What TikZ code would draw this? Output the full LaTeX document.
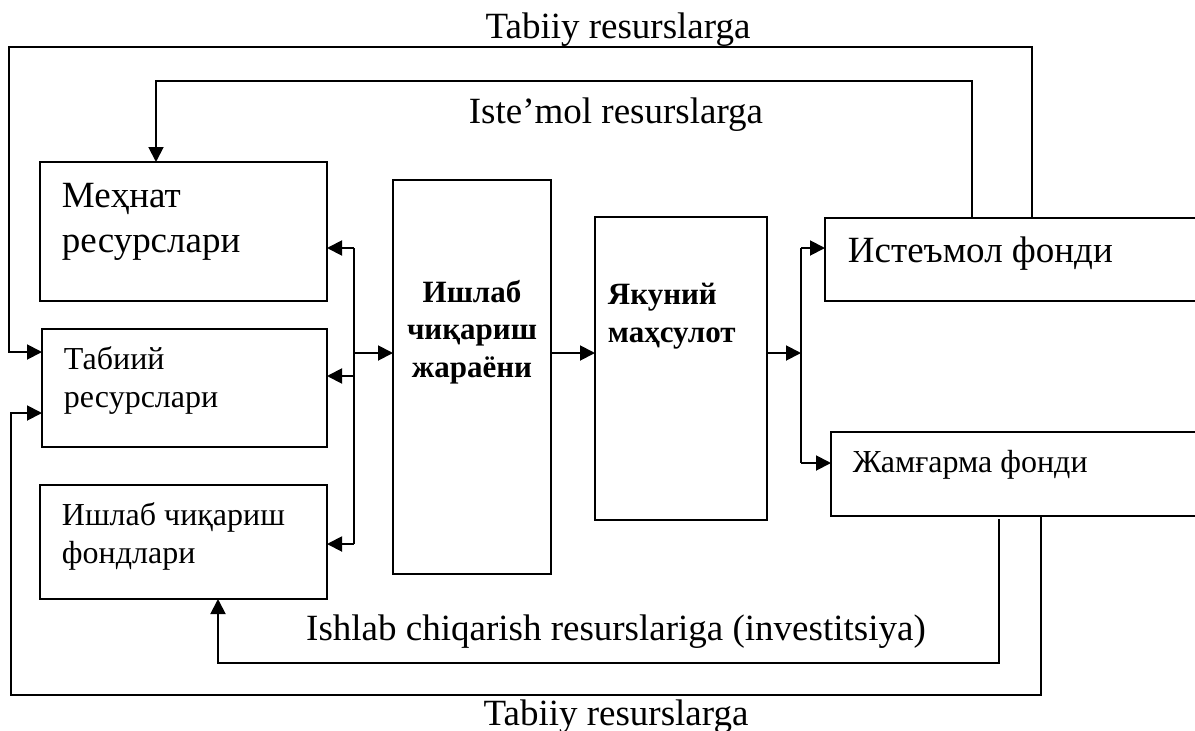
\documentclass[tikz,border=0pt]{standalone}
\usepackage{fontspec}
\setmainfont{Liberation Serif}
\usetikzlibrary{arrows.meta}
\begin{document}
\begin{tikzpicture}[x=1pt,y=-1pt,line width=1.9pt,
  box/.style={draw,line width=1.9pt,outer sep=0pt,inner sep=0pt,anchor=north west},
  arr/.style={-{Triangle[length=15pt,width=15pt]}},
  bigtxt/.style={inner sep=0pt,align=left,font=\fontsize{37}{45}\selectfont},
  smalltxt/.style={inner sep=0pt,align=left,font=\fontsize{32}{38}\selectfont},
  boldtxt/.style={inner sep=0pt,font=\fontsize{31}{37.5}\selectfont\bfseries}]
\useasboundingbox (0,0) rectangle (1195,731);
\clip (0,0) rectangle (1195,731);
% boxes
\node[box,minimum width=287pt,minimum height=139pt] (mehnat) at (40,162) {};
\node[box,minimum width=285pt,minimum height=118pt] (tabiiy) at (42,329) {};
\node[box,minimum width=287pt,minimum height=114pt] (fond) at (40,485) {};
\node[box,minimum width=158pt,minimum height=394pt] (ishlab) at (393,180) {};
\node[box,minimum width=172pt,minimum height=303pt] (yak) at (595,217) {};
\node[box,minimum width=400pt,minimum height=83pt] (istemol) at (825,218) {};
\node[box,minimum width=400pt,minimum height=84pt] (jamg) at (831,432) {};
% box texts (base = baseline of last line)
\node[bigtxt,anchor=base west] (tmehnat) at (61,252) {Меҳнат\\ресурслари};
\node[smalltxt,anchor=base west] (ttabiiy) at (63,407) {Табиий\\ресурслари};
\node[smalltxt,anchor=base west] (tfond) at (61,563) {Ишлаб чиқариш\\фондлари};
\node[boldtxt,anchor=base,align=center] (tishlab) at (472,377) {Ишлаб\\чиқариш\\жараёни};
\node[boldtxt,anchor=base west,align=left] (tyak) at (607,342) {Якуний\\маҳсулот};
\node[bigtxt,anchor=base west] (tistemol) at (847,262) {Истеъмол фонди};
\node[smalltxt,anchor=base west] (tjamg) at (852,472) {Жамғарма фонди};
% labels
\node[bigtxt,anchor=base] (ltop) at (618,38) {Tabiiy resurslarga};
\node[bigtxt,anchor=base] (lis) at (616,123) {Iste’mol resurslarga};
\node[bigtxt,anchor=base] (linv) at (616,640) {Ishlab chiqarish resurslariga (investitsiya)};
\node[bigtxt,anchor=base] (lbot) at (616,725) {Tabiiy resurslarga};
% left bus
\coordinate (b1a) at (354,248);
\coordinate (b1m) at (354,353);
\coordinate (b1t) at (354,376);
\coordinate (b1b) at (354,544);
\draw (b1a) -- (b1b);
\draw[arr] (b1a) -- (b1a -| mehnat.east);
\draw[arr] (b1t) -- (b1t -| tabiiy.east);
\draw[arr] (b1b) -- (b1b -| fond.east);
\draw[arr] (b1m) -- (b1m -| ishlab.west);
\draw[arr] (ishlab.east |- b1m) -- (yak.west |- b1m);
% right bus
\coordinate (b2a) at (801,248);
\coordinate (b2m) at (801,353);
\coordinate (b2b) at (801,463);
\draw[arr] (yak.east |- b2m) -- (b2m);
\draw (b2a) -- (b2b);
\draw[arr] (b2a) -- (b2a -| istemol.west);
\draw[arr] (b2b) -- (b2b -| jamg.west);
% Iste'mol loop
\coordinate (i1) at (972,81);
\coordinate (i2) at (156,81);
\draw[arr] (i1 |- istemol.north) -- (i1) -- (i2) -- (i2 |- mehnat.north);
% outer top loop
\coordinate (o1) at (1032,47);
\coordinate (o2) at (9,47);
\coordinate (o3) at (9,352);
\draw[arr] (o1 |- istemol.north) -- (o1) -- (o2) -- (o3) -- (o3 -| tabiiy.west);
% outer bottom loop
\coordinate (u1) at (1041,695);
\coordinate (u2) at (11,695);
\coordinate (u3) at (11,413);
\draw[arr] (u1 |- jamg.south) -- (u1) -- (u2) -- (u3) -- (u3 -| tabiiy.west);
% investment loop
\coordinate (v1) at (999,663);
\coordinate (v2) at (218,663);
\draw[arr] ([yshift=-3pt]v1 |- jamg.south) -- (v1) -- (v2) -- (v2 |- fond.south);
\end{tikzpicture}
\end{document}
